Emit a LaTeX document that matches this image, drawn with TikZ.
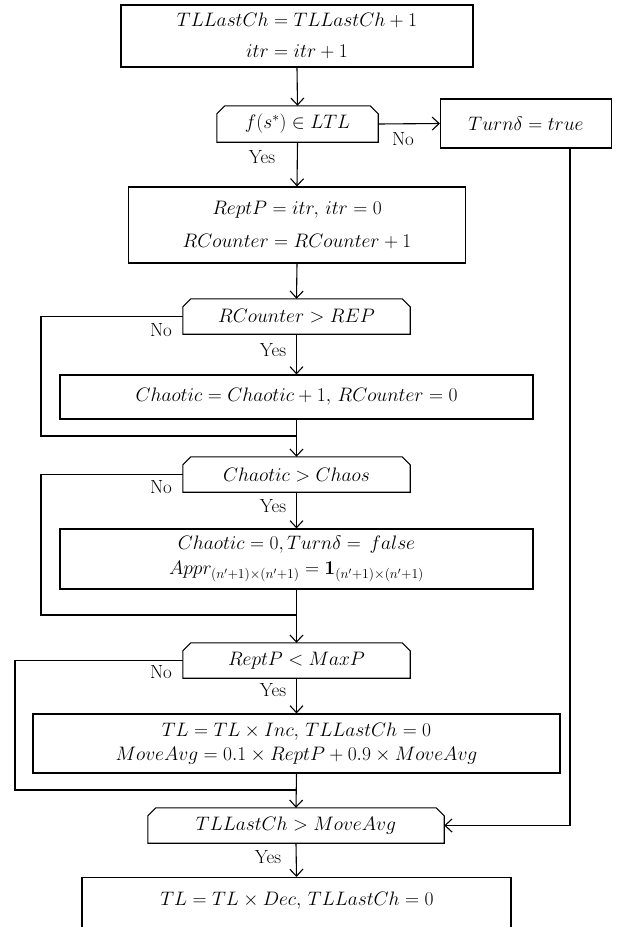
\RequirePackage{fix-cm}
\documentclass[tikz,border=0pt]{standalone}
\usepackage{amsmath}
\usetikzlibrary{arrows.meta}
\newcommand\chamf[1]{\draw[ln] (#1.south west) -- ([yshift=-8pt]#1.north west) -- ([xshift=8pt]#1.north west) -- ([xshift=-8pt]#1.north east) -- ([yshift=-8pt]#1.north east) -- (#1.south east) -- cycle;}
\begin{document}
\begin{tikzpicture}[x=1pt,y=-1pt,
  every node/.style={font=\fontsize{19.5}{23}\selectfont, inner sep=0pt},
  box/.style={draw, line width=1.1pt, align=center},
  dec/.style={align=center},
  lbl/.style={font=\fontsize{19}{22}\selectfont},
  ln/.style={line width=1.1pt},
  arr/.style={line width=1.1pt, -{Straight Barb[length=7pt,width=13pt]}}
]
\useasboundingbox (0,0) rectangle (621,927);
\clip (0,0) rectangle (621,927);

% boxes
\node[box, minimum width=352, minimum height=62] (b1) at (297,36) {$TLLastCh = TLLastCh + 1$\\[8pt] $itr = itr + 1$};
\node[dec, minimum width=161, minimum height=36] (d1) at (297.5,124) {$f(s^{*}) \in LTL$};
\chamf{d1}
\node[box, minimum width=171, minimum height=49] (tb) at (526,123.5) {$Turn\delta = true$};
\node[box, minimum width=337, minimum height=76] (b3) at (297,225) {$ReptP = itr,\, itr = 0$\\[10pt] $RCounter = RCounter + 1$};
\node[dec, minimum width=227, minimum height=35] (d2) at (296.5,316.5) {$RCounter > REP$};
\chamf{d2}
\node[box, minimum width=473, minimum height=44] (b4) at (296.5,397) {$Chaotic = Chaotic + 1,\, RCounter = 0$};
\node[dec, minimum width=227, minimum height=35] (d3) at (296.5,474.5) {$Chaotic > Chaos$};
\chamf{d3}
\node[box, minimum width=473, minimum height=60] (b5) at (296.5,559) {$Chaotic = 0, Turn\delta = \, false$\\[2pt] $Appr_{(n'+1)\times(n'+1)} = \mathbf{1}_{(n'+1)\times(n'+1)}$};
\node[dec, minimum width=227, minimum height=35] (d4) at (296.5,660.5) {$ReptP < MaxP$};
\chamf{d4}
\node[box, minimum width=527, minimum height=59] (b6) at (296.5,743.5) {$TL = TL\times Inc,\, TLLastCh = 0$\\[1pt] $MoveAvg = 0.1\times ReptP + 0.9\times MoveAvg$};
\node[dec, minimum width=296, minimum height=35] (d5) at (296,825.5) {$TLLastCh > MoveAvg$};
\chamf{d5}
\node[box, anchor=north, minimum width=429, minimum height=70] (b7) at (296.5,877) {};
\node (t7) at (297,901) {$TL = TL\times Dec,\, TLLastCh = 0$};

% labels
\node[lbl] (n1) at (403,139) {No};
\node[lbl] (y1) at (262,157) {Yes};
\node[lbl] (n2) at (161,330) {No};
\node[lbl] (y2) at (273,350) {Yes};
\node[lbl] (n3) at (161,487) {No};
\node[lbl] (y3) at (273,506) {Yes};
\node[lbl] (n4) at (161,672) {No};
\node[lbl] (y4) at (273,690) {Yes};
\node[lbl] (y5) at (268,857) {Yes};

% coordinates
\coordinate (c2) at (41,436);
\coordinate (j2) at (297,436);
\coordinate (c3) at (41,615);
\coordinate (j3) at (297,615);
\coordinate (c4) at (15,790);
\coordinate (j4) at (297,790);
\coordinate (c5) at (570,825.5);

% connectors
\draw[arr] (b1.south) -- (d1.north);
\draw[arr] (d1.east) -- (tb.west);
\draw[arr] (d1.south) -- (b3.north);
\draw[arr] (b3.south) -- (d2.north);
\draw[arr] (d2.south) -- (b4.north);
\draw[ln] (d2.west) -| (c2) -- (j2);
\draw[arr] (b4.south) -- (d3.north);
\draw[arr] (d3.south) -- (b5.north);
\draw[ln] (d3.west) -| (c3) -- (j3);
\draw[arr] (b5.south) -- (d4.north);
\draw[arr] (d4.south) -- (b6.north);
\draw[ln] (d4.west) -| (c4) -- (j4);
\draw[arr] (b6.south) -- (d5.north);
\draw[arr] (tb.south -| c5) -- (c5) -- (d5.east);
\draw[arr] (d5.south) -- (b7.north);
\end{tikzpicture}
\end{document}
